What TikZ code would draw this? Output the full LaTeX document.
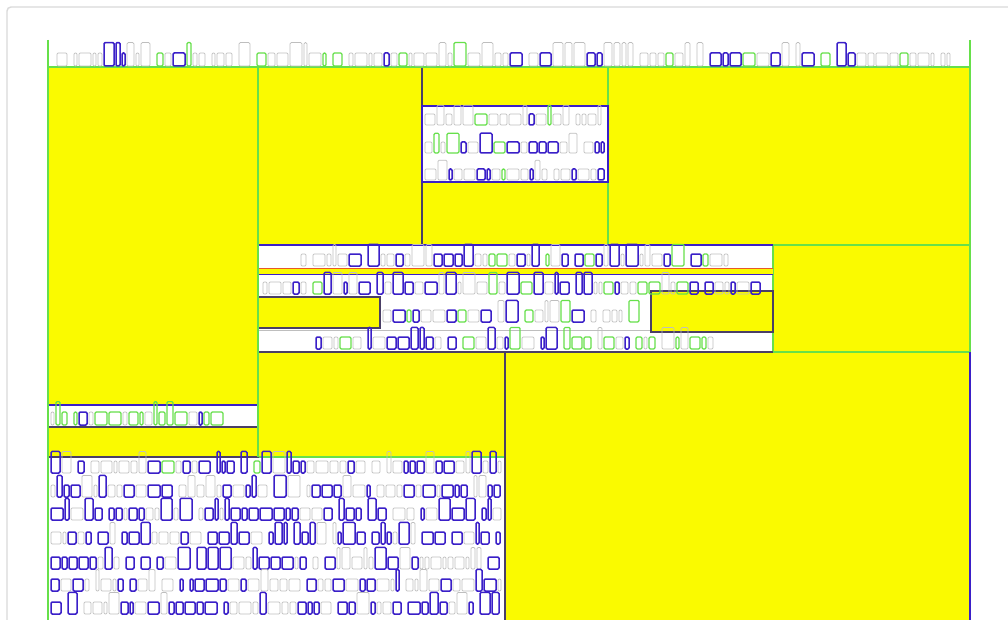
\documentclass[tikz,border=0pt]{standalone}
\usepackage{tikz}
\definecolor{yel}{RGB}{250,250,0}
\definecolor{lgreen}{RGB}{102,224,74}
\definecolor{dark}{RGB}{74,63,102}
\definecolor{gblue}{RGB}{58,31,200}
\definecolor{ggray}{RGB}{190,190,190}
\definecolor{frame}{RGB}{218,218,218}
\definecolor{ored}{RGB}{230,90,40}
\tikzset{
  yblock/.style={fill=yel, draw=lgreen, line width=1.2pt},
  dblock/.style={fill=yel, draw=dark, line width=1.2pt},
  tbox/.style={draw=gblue, line width=1.1pt},
}
\newcommand\glyphrow[6]{%
  \xdef\gx{#1}%
  \foreach \k in {1,...,150}{%
    \pgfmathsetmacro\gw{random(5,14)}%
    \pgfmathsetmacro\gend{\gx+\gw}%
    \pgfmathtruncatemacro\gok{\gend<#2}%
    \ifnum\gok=1\relax
      \pgfmathrandominteger{\gc}{1}{10}%
      \pgfmathrandominteger{\gt}{1}{4}%
      \ifnum\gt=1\relax\pgfmathsetmacro\gh{1.8*#4}\else\pgfmathsetmacro\gh{#4}\fi
      \ifnum\gc>\numexpr10-#5-#6\relax
        \ifnum\gc>\numexpr10-#6\relax
          \def\gcol{lgreen}\def\glw{1.2pt}%
        \else
          \def\gcol{gblue}\def\glw{1.5pt}%
        \fi
      \else
        \def\gcol{ggray}\def\glw{0.7pt}%
      \fi
      \draw[draw=\gcol, line width=\glw, rounded corners=1.2pt] (\gx+1,#3) rectangle (\gend-1,#3-\gh);
      \pgfmathrandominteger{\gsp}{1}{7}%
      \ifnum\gsp=1\relax\pgfmathsetmacro\gend{\gend+5}\fi
      \xdef\gx{\gend}%
    \fi
  }%
}
\begin{document}
\begin{tikzpicture}[x=1pt,y=-1pt]
\pgfmathsetseed{7}
\useasboundingbox (0,0) rectangle (1008,620);
\fill[white] (0,0) rectangle (1008,620);
% outer frame
\draw[frame, line width=1.4pt, rounded corners=4pt] (7,640) -- (7,7) -- (1030,7);
% yellow blocks
\path[yblock] (48,67) rectangle (258,405);
\path[yblock] (258,67) rectangle (422,245);
\path[dblock] (422,67) rectangle (608,106);
\path[dblock] (422,182) rectangle (608,245);
\path[yblock] (608,67) rectangle (970,245);
\path[yblock] (773,245) rectangle (970,352);
\path[yblock] (258,352) rectangle (505,457);
\path[yblock] (505,352) rectangle (970,625);
\draw[dark, line width=1.2pt] (505,352) -- (505,625);
\draw[gblue, line width=1.2pt] (970,352) -- (970,625);
% text boxes
\draw[tbox] (422,106) rectangle (608,182);
\draw[tbox] (258,245) -- (773,245);
\draw[dark, line width=1.2pt] (258,352) -- (773,352);
\path[fill=yel] (258,268) rectangle (773,274);
\draw[ored, line width=1pt] (258,268) -- (773,268);
\draw[gblue, line width=0.8pt] (258,274) -- (773,274);
\draw[ggray, line width=0.8pt] (258,330) -- (773,330);
\path[dblock] (258,297) rectangle (380,328);
\path[dblock] (651,291) rectangle (773,332);
\draw[tbox] (48,405) rectangle (258,427);
\path[dblock] (48,427) rectangle (258,457);
% page lines
\draw[lgreen, line width=1.4pt] (48,40) -- (48,625);
\draw[lgreen, line width=1.4pt] (970,40) -- (970,352);
\draw[lgreen, line width=1.4pt] (48,67) -- (970,67);
\draw[lgreen, line width=1.2pt] (258,67) -- (258,457);
% glyph rows
\glyphrow{56}{952}{66}{13}{2}{1}
\glyphrow{424}{606}{125}{11}{3}{1}
\glyphrow{424}{606}{153}{11}{3}{2}
\glyphrow{424}{606}{180}{11}{3}{2}
\glyphrow{300}{732}{266}{12}{3}{2}
\glyphrow{262}{770}{294}{12}{4}{2}
\glyphrow{382}{649}{322}{12}{4}{1}
\glyphrow{315}{715}{349}{12}{4}{2}
\glyphrow{50}{226}{425}{13}{1}{6}
\glyphrow{50}{503}{473}{12}{4}{1}
\glyphrow{50}{503}{497}{12}{5}{0}
\glyphrow{50}{503}{520}{12}{6}{0}
\glyphrow{50}{503}{544}{12}{6}{0}
\glyphrow{50}{503}{569}{12}{6}{0}
\glyphrow{50}{503}{591}{12}{5}{0}
\glyphrow{50}{503}{614}{12}{6}{0}
\end{tikzpicture}
\end{document}
